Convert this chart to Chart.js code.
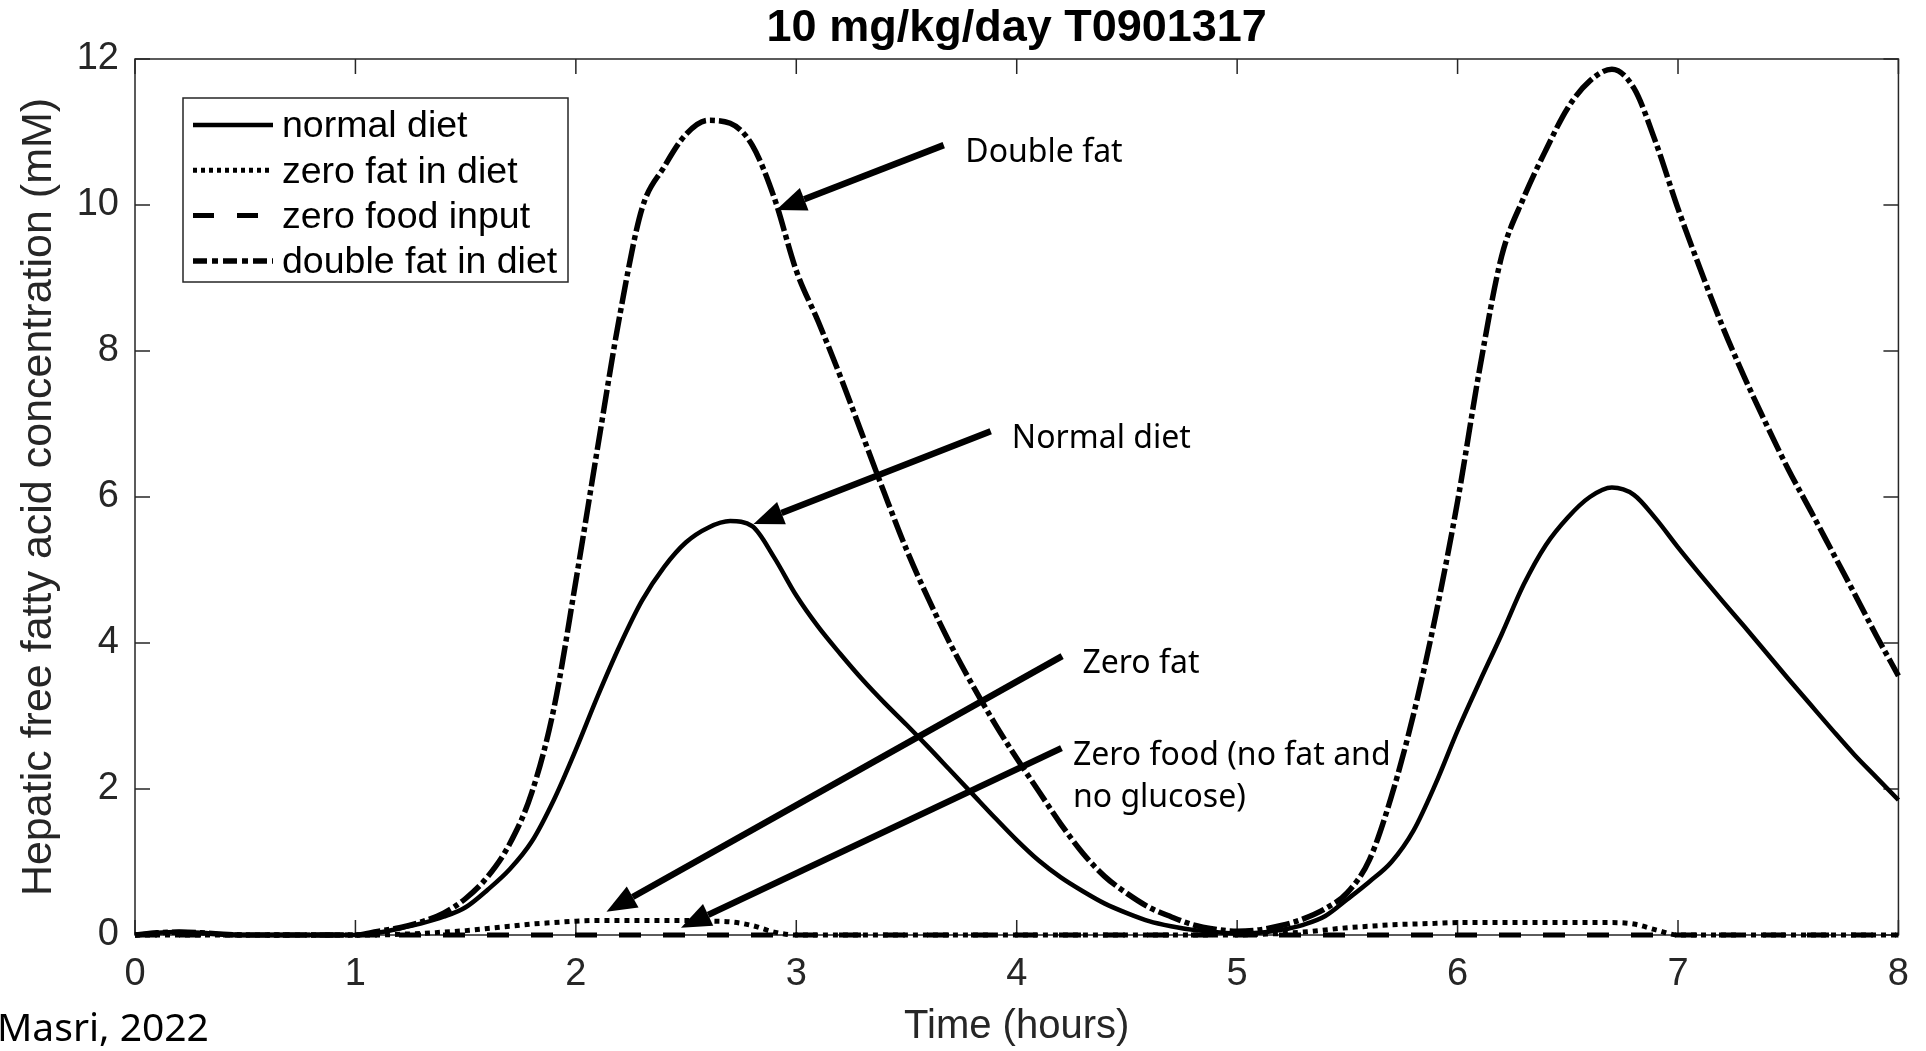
<!DOCTYPE html>
<html>
<head>
<meta charset="utf-8">
<title>Hepatic free fatty acid concentration</title>
<script src="https://cdn.jsdelivr.net/npm/chart.js@4.4.1/dist/chart.umd.min.js"></script>
<style>
    html, body { margin: 0; padding: 0; background: #fff; }
    #wrap { width: 1926px; height: 1051px; position: relative; }
</style>
</head>
<body>
<div id="wrap"><canvas id="fattyAcid"></canvas></div>
<script>
// Time axis (hours)
const timeHours = [
    0.0, 0.1, 0.2, 0.3, 0.4, 0.5, 0.6, 0.7, 0.8, 0.9,
    1.0, 1.1, 1.2, 1.3, 1.4, 1.5, 1.6, 1.7, 1.8, 1.9,
    2.0, 2.1, 2.2, 2.3, 2.4, 2.5, 2.6, 2.7, 2.8, 2.9,
    3.0, 3.1, 3.2, 3.3, 3.4, 3.5, 3.6, 3.7, 3.8, 3.9,
    4.0, 4.1, 4.2, 4.3, 4.4, 4.5, 4.6, 4.7, 4.8, 4.9,
    5.0, 5.1, 5.2, 5.3, 5.4, 5.5, 5.6, 5.7, 5.8, 5.9,
    6.0, 6.1, 6.2, 6.3, 6.4, 6.5, 6.6, 6.7, 6.8, 6.9,
    7.0, 7.1, 7.2, 7.3, 7.4, 7.5, 7.6, 7.7, 7.8, 7.9,
    8.0
];

// Hepatic FFA (mM)
const normalDiet = [
    0, 0.03, 0.04, 0.03, 0.01, 0, 0, 0, 0, 0,
    0, 0.03, 0.09, 0.16, 0.25, 0.38, 0.62, 0.9, 1.28, 1.85,
    2.54, 3.28, 3.97, 4.58, 5.04, 5.38, 5.58, 5.67, 5.6, 5.17,
    4.65, 4.22, 3.85, 3.5, 3.18, 2.88, 2.57, 2.25, 1.93, 1.61,
    1.3, 1.02, 0.79, 0.6, 0.43, 0.3, 0.19, 0.12, 0.07, 0.04,
    0.02, 0.03, 0.07, 0.14, 0.26, 0.49, 0.73, 1.0, 1.43, 2.07,
    2.8, 3.47, 4.12, 4.8, 5.34, 5.72, 6.0, 6.13, 6.03, 5.7,
    5.31, 4.94, 4.58, 4.23, 3.87, 3.51, 3.16, 2.81, 2.47, 2.16,
    1.85
];

const zeroFat = [
    0, 0, 0, 0, 0, 0, 0, 0, 0, 0,
    0, 0, 0.01, 0.02, 0.04, 0.06, 0.09, 0.12, 0.15, 0.17,
    0.19, 0.2, 0.2, 0.2, 0.2, 0.2, 0.19, 0.18, 0.13, 0.04,
    0, 0, 0, 0, 0, 0, 0, 0, 0, 0,
    0, 0, 0, 0, 0, 0, 0, 0, 0, 0,
    0, 0.01, 0.02, 0.04, 0.07, 0.1, 0.12, 0.14, 0.15, 0.16,
    0.17, 0.17, 0.17, 0.17, 0.17, 0.17, 0.17, 0.17, 0.15, 0.07,
    0, 0, 0, 0, 0, 0, 0, 0, 0, 0,
    0
];

const zeroFood = [
    0, 0, 0, 0, 0, 0, 0, 0, 0, 0,
    0, 0, 0, 0, 0, 0, 0, 0, 0, 0,
    0, 0, 0, 0, 0, 0, 0, 0, 0, 0,
    0, 0, 0, 0, 0, 0, 0, 0, 0, 0,
    0, 0, 0, 0, 0, 0, 0, 0, 0, 0,
    0, 0, 0, 0, 0, 0, 0, 0, 0, 0,
    0, 0, 0, 0, 0, 0, 0, 0, 0, 0,
    0, 0, 0, 0, 0, 0, 0, 0, 0, 0,
    0
];

const doubleFat = [
    0, 0.03, 0.04, 0.03, 0.01, 0, 0, 0, 0, 0,
    0, 0.05, 0.1, 0.18, 0.3, 0.5, 0.8, 1.25, 1.95, 3.1,
    4.85, 6.7, 8.5, 9.95, 10.52, 10.97, 11.16, 11.12, 10.82, 10.1,
    9.1, 8.4, 7.65, 6.85, 6.05, 5.28, 4.6, 3.98, 3.42, 2.9,
    2.42, 1.97, 1.52, 1.12, 0.8, 0.57, 0.38, 0.25, 0.14, 0.08,
    0.05, 0.07, 0.13, 0.22, 0.36, 0.58, 1.03, 1.9, 3.02, 4.37,
    5.94, 7.75, 9.3, 10.1, 10.75, 11.33, 11.7, 11.86, 11.6, 10.85,
    9.95, 9.13, 8.35, 7.65, 7.0, 6.38, 5.82, 5.25, 4.68, 4.1,
    3.55
];

// Series labels (legend)
const seriesLabels = ["normal diet", "zero fat in diet", "zero food input", "double fat in diet"];

// Arrow notes added on the figure (data units)
const notes = [
    { lines: ["Double fat"], textAt: [3.767, 10.71], from: [3.669, 10.82], to: [2.909, 9.93] },
    { lines: ["Normal diet"], textAt: [3.978, 6.80], from: [3.882, 6.90], to: [2.806, 5.63] },
    { lines: ["Zero fat"], textAt: [4.298, 3.71], from: [4.206, 3.82], to: [2.139, 0.32] },
    { lines: ["Zero food (no fat and", "no glucose)"], textAt: [4.255, 2.45], from: [4.203, 2.56], to: [2.477, 0.10] }
];

const xTicks = [0, 1, 2, 3, 4, 5, 6, 7, 8];
const yTicks = [0, 2, 4, 6, 8, 10, 12];

const toPoints = (vals) => vals.map((v, i) => ({ x: timeHours[i], y: v }));

Chart.defaults.font.family = "'Liberation Sans', Arial, sans-serif";
Chart.defaults.color = "#262626";

// Box around the axes with inward tick marks on all four sides
const boxTicks = {
    id: "boxTicks",
    beforeDatasetsDraw(chart) {
        const { ctx, chartArea: a, scales: { x, y } } = chart;
        const len = 15;
        ctx.save();
        ctx.strokeStyle = "#262626";
        ctx.lineWidth = 1.5;
        ctx.strokeRect(a.left, a.top, a.right - a.left, a.bottom - a.top);
        ctx.beginPath();
        xTicks.forEach(v => {
            const px = x.getPixelForValue(v);
            ctx.moveTo(px, a.bottom); ctx.lineTo(px, a.bottom - len);
            ctx.moveTo(px, a.top); ctx.lineTo(px, a.top + len);
        });
        yTicks.forEach(v => {
            const py = y.getPixelForValue(v);
            ctx.moveTo(a.left, py); ctx.lineTo(a.left + len, py);
            ctx.moveTo(a.right, py); ctx.lineTo(a.right - len, py);
        });
        ctx.stroke();
        ctx.restore();
    }
};

// Legend box inside the plot, upper left
const boxLegend = {
    id: "boxLegend",
    afterDatasetsDraw(chart) {
        const { ctx, chartArea: a } = chart;
        const bx = a.left + 48, by = a.top + 39, bw = 385, bh = 184;
        ctx.save();
        ctx.fillStyle = "#fff";
        ctx.fillRect(bx, by, bw, bh);
        ctx.strokeStyle = "#262626";
        ctx.lineWidth = 1.5;
        ctx.strokeRect(bx, by, bw, bh);
        ctx.font = "37.5px 'Liberation Sans', Arial, sans-serif";
        ctx.textBaseline = "middle";
        ctx.textAlign = "left";
        chart.data.datasets.forEach((ds, i) => {
            const rowY = by + 27 + i * 45.3;
            ctx.strokeStyle = "#000";
            ctx.lineWidth = ds.borderWidth;
            ctx.setLineDash(ds.legendDash || []);
            ctx.beginPath();
            ctx.moveTo(bx + 10, rowY);
            ctx.lineTo(bx + 90, rowY);
            ctx.stroke();
            ctx.setLineDash([]);
            ctx.fillStyle = "#000";
            ctx.fillText(ds.label, bx + 99, rowY + 2);
        });
        ctx.restore();
    }
};

// Arrows with notes, plus the source credit
const arrowNotes = {
    id: "arrowNotes",
    afterDraw(chart) {
        const { ctx, scales: { x, y } } = chart;
        ctx.save();
        ctx.fillStyle = "#000";
        ctx.strokeStyle = "#000";
        notes.forEach(n => {
            const x1 = x.getPixelForValue(n.from[0]), y1 = y.getPixelForValue(n.from[1]);
            const x2 = x.getPixelForValue(n.to[0]), y2 = y.getPixelForValue(n.to[1]);
            const ang = Math.atan2(y2 - y1, x2 - x1);
            const headLen = 30, headW = 12;
            const hx = x2 - headLen * Math.cos(ang), hy = y2 - headLen * Math.sin(ang);
            ctx.lineWidth = 6.5;
            ctx.beginPath();
            ctx.moveTo(x1, y1);
            ctx.lineTo(hx, hy);
            ctx.stroke();
            ctx.beginPath();
            ctx.moveTo(x2, y2);
            ctx.lineTo(hx + headW * Math.sin(ang), hy - headW * Math.cos(ang));
            ctx.lineTo(hx - headW * Math.sin(ang), hy + headW * Math.cos(ang));
            ctx.closePath();
            ctx.fill();

            ctx.font = "32px 'Noto Sans', sans-serif";
            ctx.textAlign = "left";
            ctx.textBaseline = "middle";
            const tx = x.getPixelForValue(n.textAt[0]);
            const ty = y.getPixelForValue(n.textAt[1]);
            n.lines.forEach((line, k) => ctx.fillText(line, tx, ty + k * 42));
        });
        ctx.font = "39px 'Noto Sans', sans-serif";
        ctx.textAlign = "left";
        ctx.textBaseline = "middle";
        ctx.fillText("Masri, 2022", -3, 1030);
        ctx.restore();
    }
};

const ctx = document.getElementById("fattyAcid").getContext("2d");
const chart = new Chart(ctx, {
    type: "line",
    data: {
        datasets: [
            {
                label: seriesLabels[0],
                data: toPoints(normalDiet),
                borderColor: "#000",
                borderWidth: 4.5,
                order: 0
            },
            {
                label: seriesLabels[1],
                data: toPoints(zeroFat),
                borderColor: "#000",
                borderWidth: 5,
                borderDash: [5, 5],
                legendDash: [4, 4],
                order: 2
            },
            {
                label: seriesLabels[2],
                data: toPoints(zeroFood),
                borderColor: "#000",
                borderWidth: 5,
                borderDash: [22, 22],
                legendDash: [21, 23],
                order: 3
            },
            {
                label: seriesLabels[3],
                data: toPoints(doubleFat),
                borderColor: "#000",
                borderWidth: 5.5,
                borderDash: [24, 4, 5, 4],
                legendDash: [14, 5, 6, 5],
                order: 1
            }
        ]
    },
    options: {
        responsive: true,
        maintainAspectRatio: false,
        animation: false,
        events: [],
        layout: { padding: { left: 0, right: 22, top: 0, bottom: 0 } },
        elements: {
            point: { radius: 0 },
            line: { cubicInterpolationMode: "monotone", borderCapStyle: "butt" }
        },
        datasets: { line: { clip: 8 } },
        scales: {
            x: {
                type: "linear",
                min: 0,
                max: 8,
                afterBuildTicks: (scale) => { scale.ticks = xTicks.map(v => ({ value: v })); },
                afterFit: (scale) => { scale.height = 116; },
                grid: { display: false, drawTicks: false },
                border: { display: false },
                ticks: { padding: 17, font: { size: 38 }, color: "#262626" },
                title: {
                    display: true,
                    text: "Time (hours)",
                    font: { size: 40 },
                    color: "#262626",
                    padding: { top: 0, bottom: 0 }
                }
            },
            y: {
                min: 0,
                max: 12,
                afterBuildTicks: (scale) => { scale.ticks = yTicks.map(v => ({ value: v })); },
                afterFit: (scale) => { scale.width = 135; },
                grid: { display: false, drawTicks: false },
                border: { display: false },
                ticks: { padding: 16, font: { size: 38 }, color: "#262626" },
                title: {
                    display: true,
                    text: "Hepatic free fatty acid concentration (mM)",
                    font: { size: 43 },
                    color: "#262626",
                    padding: { top: 13, bottom: 0 }
                }
            }
        },
        plugins: {
            legend: { display: false },
            tooltip: { enabled: false },
            title: {
                display: true,
                text: "10 mg/kg/day T0901317",
                fullSize: false,
                color: "#000",
                font: { size: 45, weight: "bold" },
                padding: { top: 2, bottom: 3 }
            }
        }
    },
    plugins: [boxTicks, boxLegend, arrowNotes]
});
</script>
</body>
</html>
